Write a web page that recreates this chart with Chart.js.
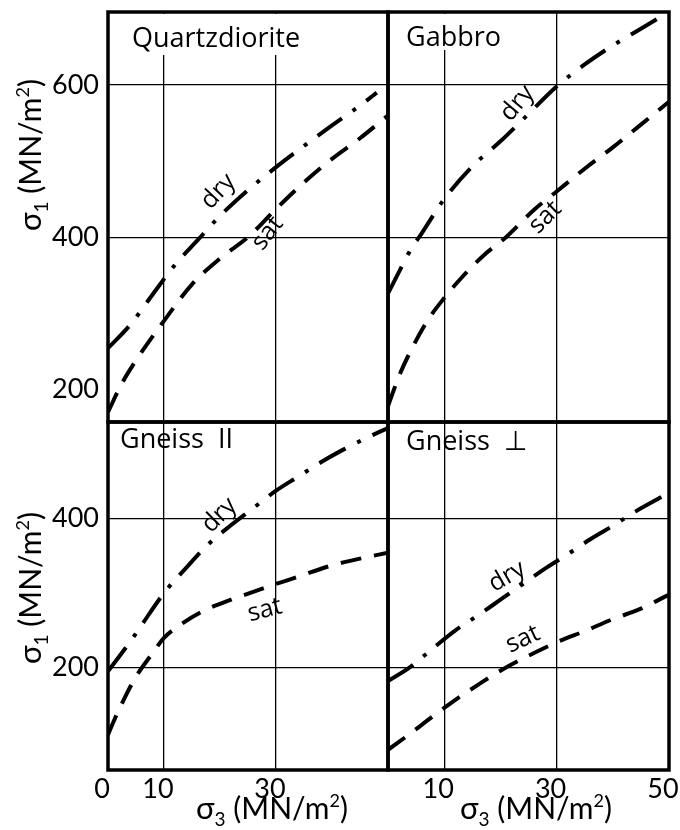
<!DOCTYPE html>
<html>
<head>
<meta charset="utf-8">
<script src="https://cdn.jsdelivr.net/npm/chart.js@4.4.1/dist/chart.umd.min.js"></script>
<style>
  body { margin: 0; background: #fff; }
  #wrap { position: relative; width: 680px; height: 830px; }
  canvas { position: absolute; left: 0; top: 0; }
</style>
</head>
<body>
<div id="wrap">
  <canvas id="qd" width="680" height="830"></canvas>
  <canvas id="gb" width="680" height="830"></canvas>
  <canvas id="gnp" width="680" height="830"></canvas>
  <canvas id="gnn" width="680" height="830"></canvas>
</div>
<script>
// sigma3 / sigma1 values (MN/m2)
const qdDryS3 = [0, 4, 8, 12, 16, 20, 25, 30, 35, 40, 45, 48];
const qdDryS1 = [254, 285, 325, 364, 396, 428, 462, 492, 520, 547, 573, 590];
const qdSatS3 = [0, 2.5, 5, 10, 15, 20, 25, 30, 35, 40, 45, 50];
const qdSatS1 = [170, 208, 238, 290, 338, 372, 400, 437, 472, 503, 530, 560];

const gbDryS3 = [0, 2, 4, 6, 10, 15, 20, 25, 30, 35, 40, 45, 50];
const gbDryS1 = [326, 355, 383, 405, 450, 493, 526, 562, 598, 627, 652, 674, 696];
const gbSatS3 = [0, 2, 4, 7, 10, 13, 17, 21, 26, 30, 35, 40, 45, 50];
const gbSatS1 = [178, 218, 250, 290, 320, 346, 376, 400, 436, 460, 490, 518, 548, 578];

const gnpDryS3 = [0, 2, 4, 6, 10, 14, 18, 22, 26, 30, 34, 38, 42, 46, 50];
const gnpDryS1 = [195, 215, 235, 257, 300, 334, 366, 391, 414, 437, 456, 475, 492, 507, 521];
const gnpSatS3 = [0, 1, 3, 5, 8, 10, 13, 17, 22, 28, 34, 40, 45, 50];
const gnpSatS1 = [110, 128, 160, 188, 220, 240, 258, 276, 291, 307, 322, 337, 346, 354];

const gnnDryS3 = [0, 4, 8, 12, 16, 20, 24, 28, 32, 36, 40, 44, 50];
const gnnDryS1 = [182, 201, 226, 250, 270, 291, 312, 333, 352, 372, 390, 409, 434];
const gnnSatS3 = [0, 4, 8, 12, 16, 20, 25, 30, 35, 40, 45, 50];
const gnnSatS1 = [90, 112, 135, 157, 177, 196, 216, 234, 249, 265, 279, 298];

// ticks and grid lines
const xTicksLeft = [0, 10, 30];
const xTicksRight = [10, 30, 50];
const xGrid = [10, 30];
const yTicksTop = [200, 400, 600];
const yGridTop = [400, 600];
const yTicksBottom = [200, 400];
const yGridBottom = [200, 400];

const tickFont = 'Lato, "Noto Sans", sans-serif';
const textFont = '"Open Sans", "DejaVu Sans", sans-serif';
const AXIS_W = 100, AXIS_H = 50;

function pts(xs, ys) {
  return xs.map((x, i) => ({ x: x, y: ys[i] }));
}

function drawRich(ctx, parts) {
  let total = 0;
  parts.forEach(p => {
    ctx.font = p.size + 'px ' + tickFont;
    p.w = ctx.measureText(p.t).width;
    total += p.w;
  });
  let x = -total / 2;
  parts.forEach(p => {
    ctx.font = p.size + 'px ' + tickFont;
    ctx.fillText(p.t, x, p.dy || 0);
    x += p.w;
  });
}

function sigmaParts(n) {
  return [
    { t: 'σ', size: 31 },
    { t: n, size: 19, dy: 7 },
    { t: ' (MN/m', size: 30 },
    { t: '2', size: 18, dy: -12 },
    { t: ')', size: 30 }
  ];
}

function noPad(s) {
  s.paddingTop = 0; s.paddingBottom = 0; s.paddingLeft = 0; s.paddingRight = 0;
}

const decor = {
  id: 'decor',
  beforeDatasetsDraw(chart, args, o) {
    const ctx = chart.ctx, a = chart.chartArea;
    ctx.save();
    ctx.font = '27px ' + textFont;
    const w = ctx.measureText(o.title).width;
    if (o.boxBottom) {
      ctx.fillStyle = '#fff';
      ctx.fillRect(o.titleX - 6, a.top + 2, w + 12, o.boxBottom - a.top - 2);
    }
    ctx.fillStyle = '#000';
    ctx.textBaseline = 'alphabetic';
    ctx.fillText(o.title, o.titleX, o.titleY);
    ctx.restore();
  },
  afterDraw(chart, args, o) {
    const ctx = chart.ctx, a = chart.chartArea;
    const xs = chart.scales.x, ys = chart.scales.y;
    ctx.save();
    ctx.fillStyle = '#000';
    // curve labels
    ctx.font = '25px ' + textFont;
    ctx.textAlign = 'center';
    ctx.textBaseline = 'middle';
    o.labels.forEach(l => {
      ctx.save();
      ctx.translate(xs.getPixelForValue(l.s3), ys.getPixelForValue(l.s1));
      ctx.rotate(l.angle * Math.PI / 180);
      ctx.fillText(l.text, 0, 0);
      ctx.restore();
    });
    // axis titles
    ctx.textAlign = 'left';
    ctx.textBaseline = 'alphabetic';
    if (o.yTitle) {
      ctx.save();
      ctx.translate(o.yTitle.x, o.yTitle.y);
      ctx.rotate(-Math.PI / 2);
      drawRich(ctx, sigmaParts('1'));
      ctx.restore();
    }
    if (o.xTitle) {
      ctx.save();
      ctx.translate(o.xTitle.x, o.xTitle.y);
      drawRich(ctx, sigmaParts('3'));
      ctx.restore();
    }
    // panel frame
    ctx.strokeStyle = '#000';
    ctx.lineWidth = 3.5;
    ctx.strokeRect(a.left, a.top, a.right - a.left, a.bottom - a.top);
    ctx.restore();
  }
};

function makePanel(id, p) {
  const lineBase = { borderColor: '#000', borderWidth: 4, pointRadius: 0, borderCapStyle: 'butt',
    cubicInterpolationMode: 'monotone', fill: false };
  return new Chart(document.getElementById(id), {
    type: 'line',
    data: {
      datasets: [
        Object.assign({ label: 'dry', data: p.dry, borderDash: [30, 13, 4, 13] }, lineBase),
        Object.assign({ label: 'sat', data: p.sat, borderDash: [21, 13] }, lineBase)
      ]
    },
    options: {
      responsive: false,
      animation: false,
      events: [],
      layout: { padding: { left: p.area[0] - AXIS_W, top: p.area[1], right: 680 - p.area[2],
        bottom: 830 - p.area[3] - AXIS_H } },
      plugins: {
        legend: { display: false },
        tooltip: { enabled: false },
        decor: p.decor
      },
      scales: {
        x: {
          type: 'linear', min: 0, max: 50,
          afterFit: s => { s.height = AXIS_H; noPad(s); },
          afterBuildTicks: s => { s.ticks = p.xTicks.map(v => ({ value: v })); },
          border: { display: false },
          grid: { drawTicks: false, lineWidth: 1.3,
            color: c => xGrid.includes(c.tick.value) ? '#000' : 'rgba(0,0,0,0)' },
          ticks: { display: p.xLabels, autoSkip: false, maxRotation: 0, padding: 3, labelOffset: -6,
            color: '#000', font: { family: tickFont, size: 27 } }
        },
        y: {
          type: 'linear', min: p.yRange[0], max: p.yRange[1],
          afterFit: s => { s.width = AXIS_W; noPad(s); },
          afterBuildTicks: s => { s.ticks = p.yTicks.map(v => ({ value: v })); },
          border: { display: false },
          grid: { drawTicks: false, lineWidth: 1.3,
            color: c => p.yGrid.includes(c.tick.value) ? '#000' : 'rgba(0,0,0,0)' },
          ticks: { display: p.yLabels, autoSkip: false, padding: 9,
            color: '#000', font: { family: tickFont, size: 27 } }
        }
      }
    },
    plugins: [decor]
  });
}

makePanel('qd', {
  area: [108, 12, 388, 422], yRange: [157, 696],
  dry: pts(qdDryS3, qdDryS1), sat: pts(qdSatS3, qdSatS1),
  xTicks: xTicksLeft, xLabels: false, yTicks: yTicksTop, yGrid: yGridTop, yLabels: true,
  decor: { title: 'Quartzdiorite', titleX: 132, titleY: 47, boxBottom: 55,
    yTitle: { x: 41, y: 155 },
    labels: [{ text: 'dry', s3: 19.7, s1: 460, angle: -47 }, { text: 'sat', s3: 28.5, s1: 405, angle: -52 }] }
});

makePanel('gb', {
  area: [388, 12, 669, 422], yRange: [157, 696],
  dry: pts(gbDryS3, gbDryS1), sat: pts(gbSatS3, gbSatS1),
  xTicks: xTicksRight, xLabels: false, yTicks: yTicksTop, yGrid: yGridTop, yLabels: false,
  decor: { title: 'Gabbro', titleX: 406, titleY: 46, boxBottom: 50,
    labels: [{ text: 'dry', s3: 23, s1: 576, angle: -50 }, { text: 'sat', s3: 28, s1: 426, angle: -45 }] }
});

makePanel('gnp', {
  area: [108, 422, 388, 770], yRange: [63, 529],
  dry: pts(gnpDryS3, gnpDryS1), sat: pts(gnpSatS3, gnpSatS1),
  xTicks: xTicksLeft, xLabels: true, yTicks: yTicksBottom, yGrid: yGridBottom, yLabels: true,
  decor: { title: 'Gneiss  II', titleX: 120, titleY: 448,
    yTitle: { x: 41, y: 588 }, xTitle: { x: 272, y: 819 },
    labels: [{ text: 'dry', s3: 19.9, s1: 404, angle: -45 }, { text: 'sat', s3: 28, s1: 277, angle: -15 }] }
});

makePanel('gnn', {
  area: [388, 422, 669, 770], yRange: [63, 529],
  dry: pts(gnnDryS3, gnnDryS1), sat: pts(gnnSatS3, gnnSatS1),
  xTicks: xTicksRight, xLabels: true, yTicks: yTicksBottom, yGrid: yGridBottom, yLabels: false,
  decor: { title: 'Gneiss  ⊥', titleX: 406, titleY: 450,
    xTitle: { x: 536, y: 819 },
    labels: [{ text: 'dry', s3: 21.2, s1: 322, angle: -30 }, { text: 'sat', s3: 24, s1: 238, angle: -25 }] }
});
</script>
</body>
</html>
